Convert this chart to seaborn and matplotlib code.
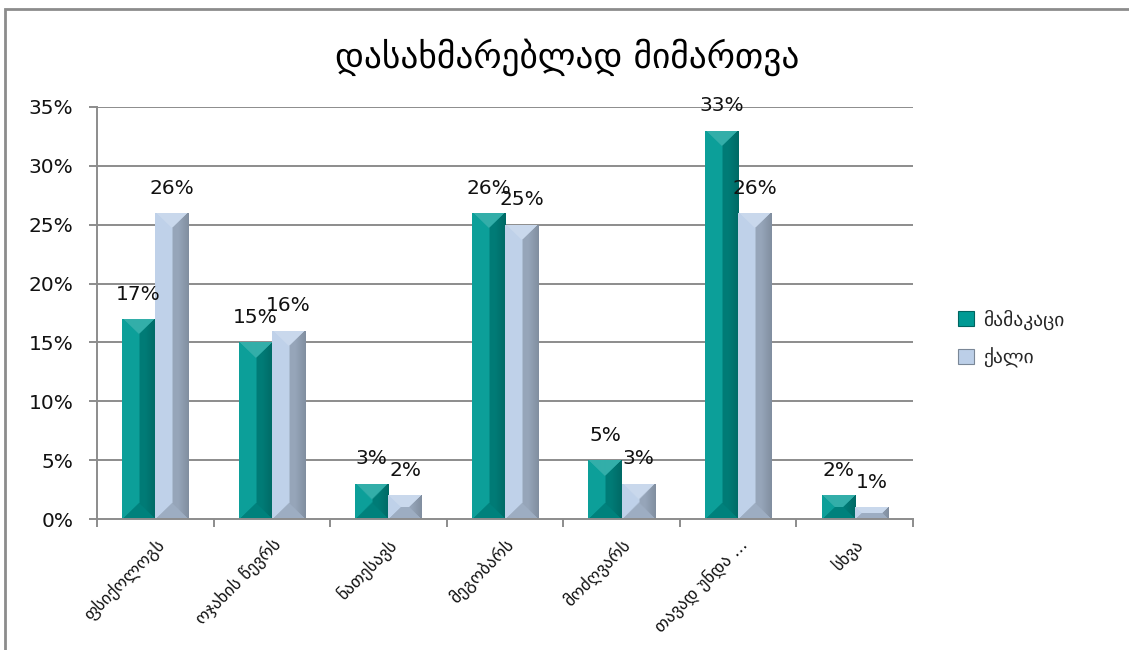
import numpy as np
import pandas as pd
import matplotlib
matplotlib.use("Agg")
import matplotlib.pyplot as plt
from matplotlib.patches import Rectangle, Patch
from matplotlib.colors import to_rgb
import seaborn as sns

# Data
categories = ["ფსიქოლოგს", "ოჯახის წევრს", "ნათესავს", "მეგობარს",
              "მოძღვარს", "თავად უნდა ...", "სხვა"]
men = [17, 15, 3, 26, 5, 33, 2]
women = [26, 16, 2, 25, 3, 26, 1]
series = ["მამაკაცი", "ქალი"]
yticks = [0, 5, 10, 15, 20, 25, 30, 35]
title = "დასახმარებლად მიმართვა"

colors = {"მამაკაცი": "#009a94", "ქალი": "#bccfe8"}

df = pd.DataFrame({
    "category": categories * 2,
    "value": men + women,
    "group": [series[0]] * len(categories) + [series[1]] * len(categories),
})

sns.set_theme(style="white")
plt.rcParams["font.family"] = ["DejaVu Sans"]

fig = plt.figure(figsize=(11.29, 6.5), dpi=100)
ax = fig.add_axes([0.0859, 0.2015, 0.7228, 0.6339])

sns.barplot(data=df, x="category", y="value", hue="group", palette=colors,
            width=0.57, dodge=True, ax=ax, legend=False, saturation=1,
            linewidth=0, errorbar=None)

ax.set_xlim(-0.5, len(categories) - 0.5)
ax.set_ylim(0, 35)
ax.set_yticks(yticks)
ax.set_yticklabels([f"{v}%" for v in yticks], fontsize=14.5, color="#111111")
ax.set_xlabel("")
ax.set_ylabel("")

# grid and spines
grid_c = "#8c8c8c"
for v in yticks[1:]:
    ax.axhline(v, color=grid_c, lw=1.4, zorder=0.5)
for s in ["top", "right"]:
    ax.spines[s].set_visible(False)
for s in ["left", "bottom"]:
    ax.spines[s].set_color(grid_c)
    ax.spines[s].set_linewidth(1.4)

# ticks: x ticks at category boundaries, labels at centres
ax.set_xticks(np.arange(len(categories) + 1) - 0.5, minor=False)
ax.set_xticklabels([])
ax.tick_params(axis="x", which="major", direction="out", length=6,
               color=grid_c, width=1.4, bottom=True)
ax.set_xticks(np.arange(len(categories)), minor=True)
ax.set_xticklabels(categories, minor=True, rotation=45, ha="right",
                   rotation_mode="anchor", fontsize=12.5, color="#111111")
ax.tick_params(axis="x", which="minor", length=0, pad=12)
ax.tick_params(axis="y", direction="out", length=6, color=grid_c, width=1.4,
               left=True, pad=11)


def shade(c, f):
    c = np.asarray(c)
    if f >= 0:
        return c + (1 - c) * f
    return c * (1 + f)


def bevel(patch):
    """Overlay a pyramid-style bevel shading clipped to a bar."""
    x0, y0 = patch.get_x(), patch.get_y()
    w, h = patch.get_width(), patch.get_height()
    if h <= 0:
        return
    p0 = ax.transData.transform((x0, y0))
    p1 = ax.transData.transform((x0 + w, y0 + h))
    W = max(int(round(p1[0] - p0[0])), 2)
    H = max(int(round(p1[1] - p0[1])), 2)
    base = np.array(to_rgb(patch.get_facecolor()))
    yy, xx = np.mgrid[0:H, 0:W].astype(float)
    dl, dr, dt, db = xx, W - 1 - xx, yy, H - 1 - yy
    d = np.stack([dl, dr, dt, db])
    near = np.argmin(d, axis=0)
    dmin = np.min(d, axis=0)
    b = W / 2.0
    img = np.empty((H, W, 3))
    facets = {0: 0.05, 1: -0.2, 2: 0.2, 3: -0.16}
    for k, f in facets.items():
        img[near == k] = shade(base, f)
    # darken the right edge, fading toward the centre
    edge = np.clip(1 - dr / (b * 0.6), 0, 1)
    dark = shade(base, -0.42)
    m = near == 1
    img[m] = img[m] * (1 - edge[m, None] * 0.5) + dark * (edge[m, None] * 0.5)
    img[dmin >= b] = base
    im = ax.imshow(img, extent=(x0, x0 + w, y0, y0 + h), origin="upper",
                   aspect="auto", interpolation="bilinear",
                   zorder=patch.get_zorder() + 0.1)
    im.set_clip_path(patch)


for p in [p for p in ax.patches if p.get_height() > 0]:
    bevel(p)

ax.set_xlim(-0.5, len(categories) - 0.5)
ax.set_ylim(0, 35)

# value labels
for cont, vals in zip(ax.containers, [men, women]):
    ax.bar_label(cont, labels=[f"{v}%" for v in vals], padding=11,
                 fontsize=14.5, color="#111111")

# legend
handles = [Patch(facecolor=colors[s], edgecolor=shade(to_rgb(colors[s]), -0.35), lw=0.8)
           for s in series]
fig.legend(handles, series, loc="center left", bbox_to_anchor=(0.833, 0.479),
           frameon=False, fontsize=14, handlelength=0.8, handleheight=0.8,
           handletextpad=0.5, labelspacing=0.9)

fig.text(0.502, 0.912, title, ha="center", va="center", fontsize=25.5,
         color="#000000")

# outer frame
fig.patches.append(Rectangle((0.0044, -0.1), 1.2, 1.0862, transform=fig.transFigure,
                             fill=False, edgecolor="#8c8c8c", lw=2, clip_on=False))

fig.savefig("out.png", dpi=100)
